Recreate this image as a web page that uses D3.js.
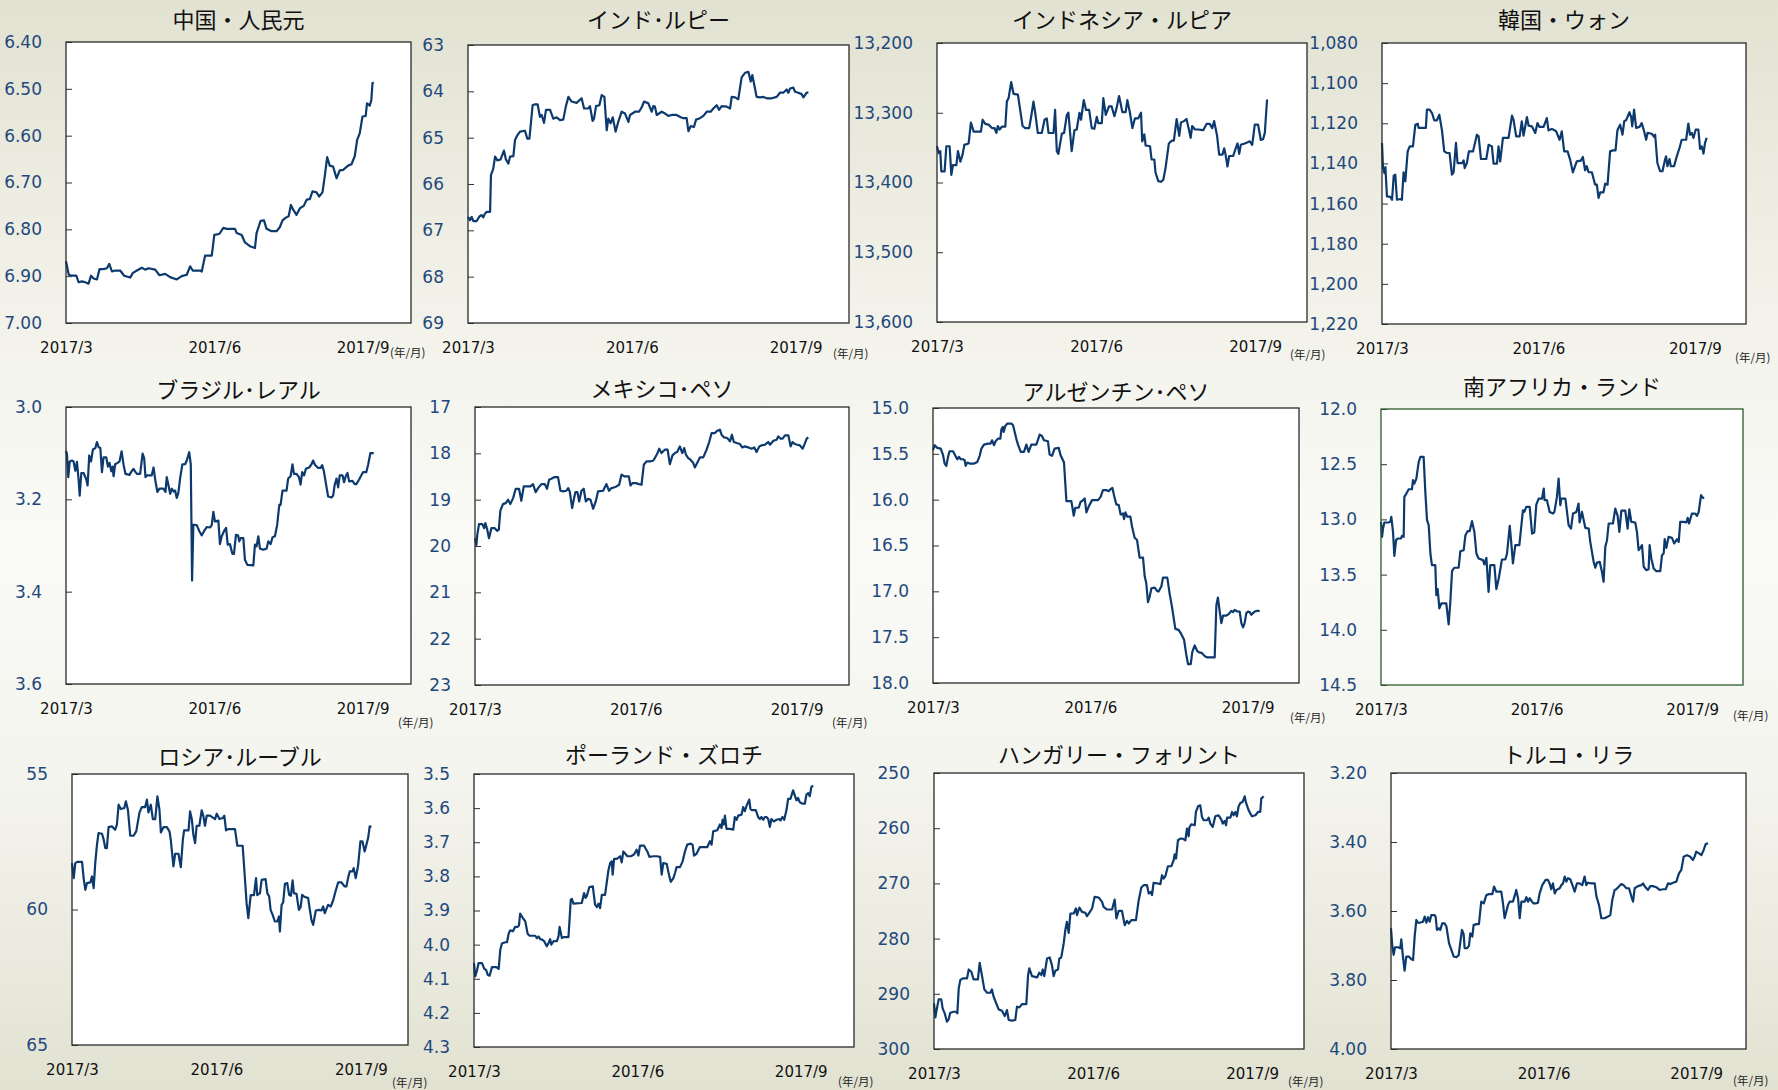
<!DOCTYPE html>
<html><head><meta charset="utf-8">
<script src="https://cdn.jsdelivr.net/npm/d3@7"></script>
<style>
html,body{margin:0;padding:0;}
body{width:1778px;height:1090px;overflow:hidden;}
</style></head><body>
<svg id="chart" width="1778" height="1090"></svg>
<script>
// ---------------- DATA ----------------
const titles = ["中国・人民元","インド･ルピー","インドネシア・ルピア","韓国・ウォン",
  "ブラジル･レアル","メキシコ･ペソ","アルゼンチン･ペソ","南アフリカ・ランド",
  "ロシア･ルーブル","ポーランド・ズロチ","ハンガリー・フォリント","トルコ・リラ"];
const xTickLabels = ["2017/3","2017/6","2017/9"];
const xTickDays = [0, 92, 184];          // days since 2017-03-01
const xDomainDays = [0, 214];            // 2017-03-01 .. 2017-10-01
const unitLabel = "(年/月)";

const cnyTicks = [6.40,6.50,6.60,6.70,6.80,6.90,7.00];
const inrTicks = [63,64,65,66,67,68,69];
const idrTicks = [13200,13300,13400,13500,13600];
const krwTicks = [1080,1100,1120,1140,1160,1180,1200,1220];
const brlTicks = [3.0,3.2,3.4,3.6];
const mxnTicks = [17,18,19,20,21,22,23];
const arsTicks = [15.0,15.5,16.0,16.5,17.0,17.5,18.0];
const zarTicks = [12.0,12.5,13.0,13.5,14.0,14.5];
const rubTicks = [55,60,65];
const plnTicks = [3.5,3.6,3.7,3.8,3.9,4.0,4.1,4.2,4.3];
const hufTicks = [250,260,270,280,290,300];
const tryTicks = [3.20,3.40,3.60,3.80,4.00];
const tickFormats = [".2f","d",",",",",".1f","d",".1f",".1f","d",".1f","d",".2f"];

// [day since 2017-03-01, rate]
const cnyData = [[0,6.868],[1.7,6.897],[3.7,6.899],[6.4,6.899],[7.8,6.913],[9.9,6.911],[12,6.913],[14,6.916],[15.5,6.899],[17.1,6.905],[19.2,6.907],[20.8,6.885],[23.3,6.885],[25.4,6.883],[26.8,6.874],[28.5,6.890],[30.5,6.888],[33.6,6.888],[36.1,6.899],[39.8,6.903],[41.5,6.893],[44,6.888],[47,6.882],[49.1,6.886],[51.2,6.883],[55.3,6.886],[58,6.898],[61.5,6.895],[64.6,6.902],[68.7,6.907],[71.8,6.900],[74.9,6.897],[77,6.879],[78.6,6.888],[83.2,6.888],[84.2,6.890],[86.3,6.856],[90.4,6.856],[92,6.812],[95.1,6.810],[97.6,6.797],[99.7,6.799],[104.8,6.799],[105.9,6.808],[109,6.812],[111,6.828],[114.1,6.836],[117.2,6.840],[118.2,6.808],[120.7,6.782],[122.8,6.781],[124.4,6.799],[127.5,6.804],[130.6,6.804],[132.7,6.795],[134.3,6.781],[136.4,6.775],[138.1,6.772],[139.5,6.748],[140.9,6.758],[143,6.769],[145.1,6.755],[147.5,6.750],[149.2,6.737],[151.3,6.735],[152.9,6.719],[155.4,6.721],[157,6.730],[159.1,6.721],[160.5,6.687],[162,6.646],[163.6,6.664],[165.7,6.666],[167.8,6.691],[169.8,6.674],[171.9,6.673],[175,6.664],[177.1,6.661],[179.1,6.644],[180.6,6.609],[182.2,6.595],[183.9,6.559],[185.9,6.558],[186.7,6.531],[188.4,6.536],[189.4,6.524],[190.1,6.488],[190.9,6.486]];

const inrData = [[0,66.71],[1.1,66.78],[2.1,66.71],[3,66.80],[4.9,66.80],[6.4,66.70],[7.7,66.67],[8.6,66.72],[9.5,66.64],[10.5,66.60],[12.4,66.60],[12.9,65.81],[14.2,65.67],[15.2,65.41],[16.5,65.49],[18.3,65.47],[20.2,65.28],[21.3,65.47],[22.7,65.56],[23.6,65.41],[25.5,65.40],[26.4,65.05],[27.7,64.95],[29.2,64.87],[32,64.85],[33.3,65.02],[34.5,65.02],[36.3,64.30],[37.6,64.28],[39.1,64.28],[40.4,64.55],[41.4,64.51],[42.7,64.68],[43.8,64.40],[46.1,64.40],[47.9,64.59],[49.8,64.56],[51.7,64.62],[53.5,64.61],[55,64.32],[56.4,64.12],[58.2,64.22],[61,64.25],[63.8,64.15],[65.2,64.37],[67.6,64.37],[68.5,64.32],[70,64.64],[70.8,64.59],[71.9,64.32],[73.8,64.30],[75.1,64.08],[76.6,64.12],[77.9,64.84],[78.8,64.59],[80.1,64.69],[81.3,64.56],[82.9,64.87],[84.4,64.66],[86.3,64.44],[88.2,64.48],[90.1,64.66],[91,64.51],[93.8,64.44],[96,64.44],[97.5,64.35],[98.9,64.22],[101.3,64.26],[103.2,64.44],[104.1,64.32],[105,64.33],[106,64.51],[108.8,64.44],[110.7,64.48],[112.5,64.53],[114.4,64.51],[117.2,64.51],[119.5,64.56],[121,64.58],[122.8,64.58],[123.8,64.86],[125.1,64.75],[126.9,64.77],[128.1,64.61],[130.3,64.58],[132.2,64.53],[134.1,64.44],[136.3,64.44],[137.8,64.37],[139.7,64.30],[141,64.40],[142.5,64.32],[145.3,64.33],[147.2,64.37],[148.1,64.12],[150,64.13],[151.8,64.17],[153.7,63.70],[155.6,63.60],[157.5,63.58],[158.8,63.79],[159.7,63.65],[161.2,63.94],[162.1,64.12],[164,64.13],[165.9,64.12],[167.8,64.15],[170.6,64.15],[173.4,64.12],[175.2,64.03],[177.1,64.03],[179,63.96],[179.9,64.03],[180.9,63.94],[182.7,63.92],[183.7,64.01],[185.5,64.03],[187.4,64.06],[188.4,64.13],[189.3,64.08],[190.2,64.03],[191.2,64.03]];

const idrData = [[0,13348],[1,13358],[1.9,13355],[2.5,13384],[4.4,13384],[5.4,13348],[7.3,13348],[8.3,13389],[9.2,13375],[11.2,13375],[12.1,13355],[13.5,13370],[14.8,13360],[15.8,13346],[18.3,13344],[19.6,13314],[21.2,13327],[22.5,13327],[25.4,13327],[26.4,13310],[27.9,13316],[29.8,13317],[31.8,13322],[33.3,13322],[34.3,13329],[35.2,13319],[36.2,13324],[37.5,13320],[39.5,13320],[40.4,13284],[41.4,13279],[42.9,13256],[44.3,13273],[46.8,13274],[48.1,13296],[49.5,13319],[51,13322],[53.3,13322],[54.5,13305],[55.8,13284],[56.8,13300],[58.3,13329],[60.6,13329],[62.2,13310],[63.5,13308],[64.5,13329],[67.4,13329],[68.3,13296],[69.3,13355],[70.2,13359],[72.2,13330],[73.5,13329],[75.1,13303],[76,13300],[77,13329],[77.9,13355],[79.5,13325],[80.8,13324],[82.4,13300],[83.3,13310],[84.9,13282],[86.2,13296],[88,13296],[89.5,13322],[91,13323],[92.4,13306],[93.3,13315],[95.3,13315],[96.2,13279],[97.6,13303],[99.5,13291],[101,13291],[102.6,13305],[103.9,13293],[105.3,13276],[107.2,13299],[109.1,13299],[110.1,13282],[111.6,13300],[113,13322],[114.5,13308],[116.4,13308],[118,13300],[118.7,13341],[119.9,13331],[120.7,13347],[123.2,13348],[124.1,13367],[125.7,13367],[126.4,13386],[128,13398],[129.5,13399],[130.9,13396],[132.2,13379],[134.1,13344],[135.7,13340],[137,13340],[138.6,13309],[140.1,13333],[141.1,13314],[142.8,13312],[144.3,13309],[145.7,13324],[146.7,13336],[147.6,13319],[149.2,13324],[151.1,13324],[154,13325],[155.9,13316],[157.8,13316],[159.2,13322],[160.3,13312],[162,13333],[163.2,13360],[165.1,13360],[166.1,13351],[166.9,13360],[168,13377],[169,13362],[171.3,13362],[172.6,13352],[173.8,13344],[174.8,13359],[175.7,13346],[178,13344],[180,13342],[180.9,13341],[182.3,13346],[183.8,13317],[185.7,13317],[187.3,13339],[188.6,13338],[189.6,13329],[190.9,13281]];

const krwData = [[0,1129.8],[0.6,1142.3],[1.4,1144.8],[2,1141.8],[2.9,1156.4],[4.9,1156.7],[5.9,1158.1],[6.9,1146.1],[7.8,1145.6],[8.8,1158.1],[10.8,1157.7],[11.7,1158.1],[12.7,1144.4],[13.7,1148.9],[15.1,1134.0],[16.3,1131.5],[18.2,1131.5],[19.6,1120.7],[21,1120.2],[21.5,1122.3],[24.5,1122.3],[25.8,1122.3],[26.4,1113.2],[28,1113.2],[29.4,1114.9],[30.7,1118.5],[32.3,1118.5],[33.7,1115.7],[35.2,1123.2],[36.6,1134.0],[38.2,1134.8],[39.7,1134.8],[41.1,1145.6],[42.1,1144.4],[43.5,1129.8],[44.4,1139.8],[47,1139.8],[48,1138.5],[48.6,1142.3],[49.9,1139.8],[51.1,1134.0],[53.5,1134.0],[55.8,1125.7],[56.8,1126.5],[58.2,1137.8],[61.3,1137.8],[62.7,1130.7],[64.6,1131.5],[65.6,1140.1],[67.6,1140.1],[68.5,1131.5],[69.5,1139.0],[71.1,1127.3],[74.4,1127.3],[76.4,1116.2],[77.3,1118.2],[78.9,1126.5],[80.9,1126.5],[82.2,1119.0],[83.2,1126.2],[85.2,1116.9],[86.2,1121.2],[88.1,1121.5],[90.1,1124.8],[91.4,1119.9],[92.6,1121.8],[95,1121.8],[96.9,1117.4],[97.9,1123.5],[99.9,1122.8],[102.4,1124.0],[104.4,1128.2],[105.7,1124.0],[107.1,1134.0],[109.1,1134.0],[110.6,1138.1],[112.2,1144.4],[114.5,1139.0],[116.9,1138.6],[118.1,1136.8],[119.4,1143.4],[120.4,1141.4],[121.4,1144.3],[123.4,1144.4],[125.3,1150.6],[126.3,1150.6],[127.3,1157.2],[128.3,1154.4],[130.2,1154.4],[131.2,1150.1],[132.6,1150.6],[134.1,1134.0],[135.7,1133.5],[137.3,1133.5],[138.4,1123.5],[140,1120.7],[141.4,1125.7],[142.4,1119.0],[143.5,1118.5],[145.5,1114.5],[146.5,1116.9],[147.1,1121.5],[148.2,1113.2],[149.4,1122.3],[151.4,1121.8],[152.7,1119.9],[154.1,1124.0],[155.3,1128.2],[156.1,1124.8],[158.6,1125.2],[160,1126.8],[160.6,1125.7],[161.9,1139.8],[163.5,1143.9],[164.9,1143.9],[166.4,1138.1],[167,1136.5],[167.8,1141.4],[169,1137.8],[169.8,1141.4],[171.7,1141.4],[173.3,1136.5],[174.9,1132.3],[176.2,1128.2],[178.8,1128.2],[180.1,1120.2],[181.1,1125.7],[182.1,1124.8],[183.1,1127.3],[184.4,1123.2],[186,1123.2],[187,1132.8],[188,1131.5],[189,1135.1],[189.9,1129.8],[190.9,1127.3]];

const brlData = [[0,3.095],[0.6,3.102],[1.4,3.152],[2.3,3.118],[3.7,3.116],[4.7,3.118],[5.8,3.138],[6.8,3.119],[7.8,3.157],[8.5,3.192],[9.5,3.143],[10.9,3.143],[12.6,3.157],[13.4,3.170],[14.4,3.105],[15.5,3.118],[16.7,3.092],[18.2,3.089],[19.2,3.076],[20.2,3.087],[21.3,3.089],[22.3,3.141],[23.3,3.109],[25,3.109],[26,3.129],[27,3.121],[28.1,3.139],[28.9,3.129],[29.5,3.150],[30.5,3.124],[32,3.121],[33.2,3.118],[34.5,3.096],[35.7,3.125],[36.9,3.145],[39.4,3.147],[40.9,3.138],[41.9,3.134],[42.7,3.139],[44,3.145],[46,3.145],[47.5,3.101],[48.5,3.111],[49.3,3.152],[50.1,3.148],[53.2,3.148],[54.3,3.131],[55.5,3.161],[56.7,3.184],[58,3.177],[60.5,3.177],[61.7,3.184],[62.5,3.152],[63.6,3.170],[64.6,3.188],[65.6,3.177],[66.7,3.183],[67.7,3.181],[68.7,3.197],[69.7,3.186],[70.8,3.154],[72.2,3.124],[73.9,3.124],[74.9,3.116],[76.4,3.098],[77.4,3.124],[78.2,3.376],[79,3.255],[81.1,3.256],[82.7,3.269],[84.2,3.278],[85.6,3.269],[87.3,3.260],[89.4,3.261],[90.4,3.256],[91.4,3.227],[92.4,3.248],[94.5,3.246],[95.5,3.297],[96.6,3.280],[98,3.269],[99.3,3.262],[100.3,3.298],[101.7,3.297],[103.2,3.318],[104.2,3.318],[105.4,3.277],[106.7,3.278],[107.5,3.291],[108.3,3.284],[110,3.284],[111,3.331],[112.5,3.342],[116.2,3.343],[117.2,3.298],[118.2,3.302],[119.3,3.280],[120.3,3.307],[122.4,3.309],[124.4,3.307],[125.5,3.291],[126.9,3.297],[128.1,3.282],[129.6,3.280],[131,3.255],[132.3,3.212],[133.1,3.212],[134.3,3.181],[136.8,3.181],[137.8,3.155],[139.3,3.150],[140.5,3.124],[141.4,3.145],[143,3.145],[144.5,3.152],[145.5,3.168],[146.5,3.141],[147.7,3.148],[148.8,3.134],[150.8,3.131],[152.3,3.124],[153.3,3.116],[154.4,3.125],[156.4,3.132],[157.9,3.132],[158.9,3.126],[159.9,3.138],[162.6,3.194],[164.7,3.196],[165.7,3.192],[166.7,3.168],[167.8,3.155],[168.8,3.174],[169.8,3.148],[171.5,3.148],[172.5,3.163],[173.5,3.150],[174.6,3.143],[175.6,3.161],[177.7,3.160],[179.1,3.167],[180.1,3.167],[181.8,3.157],[184.3,3.141],[186.3,3.141],[187.4,3.125],[188.8,3.100],[190.9,3.100]];

const mxnData = [[0,19.831],[0.8,19.975],[1.3,19.759],[2.3,19.528],[4.2,19.528],[5.2,19.615],[5.9,19.507],[6.9,19.629],[8,19.831],[9.4,19.615],[11.3,19.615],[12.6,19.672],[13.6,19.651],[14.5,19.240],[16,19.096],[17.6,19.074],[18.9,19.002],[20.2,19.096],[21.8,18.966],[23.3,18.765],[25.2,18.765],[26.5,19.024],[27.9,18.714],[29.4,18.714],[31.7,18.714],[33.2,18.664],[34.7,18.837],[36.1,18.750],[38,18.664],[39.9,18.664],[41.2,18.765],[42.4,18.570],[43.7,18.549],[45.6,18.513],[47.5,18.513],[48.9,18.808],[50.4,18.822],[52.3,18.808],[53.3,18.750],[54.2,18.822],[55.6,19.183],[56.7,18.966],[57.5,18.837],[58.6,18.837],[59.6,19.038],[60.9,18.808],[62.2,18.765],[63.4,19.038],[64.7,18.981],[66.1,19.002],[67.6,19.197],[69.1,19.038],[70.4,18.822],[73.3,18.808],[75.2,18.664],[76.7,18.808],[78.1,18.750],[79.4,18.736],[80.9,18.714],[82.5,18.678],[83.8,18.462],[85.7,18.498],[88,18.498],[89,18.693],[90.1,18.642],[92,18.642],[93.9,18.664],[95.3,18.678],[96.6,18.246],[98.1,18.174],[100,18.174],[101.9,18.160],[102.9,18.102],[104.2,18.016],[105.4,17.900],[106.7,17.994],[108.6,17.922],[110.2,17.922],[111.5,18.232],[113,18.044],[114.4,17.994],[115.7,17.972],[117.2,17.850],[118.6,17.994],[119.7,17.886],[120.7,18.030],[122,18.102],[123.3,18.138],[124.9,18.210],[125.8,18.304],[127.1,18.210],[128.7,18.088],[130.6,18.088],[132.5,17.922],[134,17.756],[135.4,17.562],[137.3,17.562],[138.6,17.511],[140.1,17.490],[141.1,17.598],[142.4,17.655],[144.3,17.670],[145.9,17.742],[147,17.598],[148.1,17.756],[149.7,17.778],[151.6,17.800],[152.9,17.872],[154.4,17.850],[156.4,17.872],[158.3,17.900],[159.8,17.872],[161.1,17.972],[162.7,17.850],[164,17.828],[165.9,17.814],[167.8,17.756],[168.8,17.814],[170.7,17.728],[172.6,17.706],[173.5,17.634],[174.9,17.684],[176,17.684],[177.4,17.612],[179.3,17.612],[180.6,17.850],[181.7,17.756],[183.1,17.800],[184.4,17.814],[185.9,17.828],[187.5,17.900],[188.8,17.778],[189.8,17.684],[190.7,17.655]];

const arsData = [[0,15.461],[1,15.406],[2.5,15.435],[4.5,15.443],[5.8,15.508],[6.8,15.606],[7.8,15.631],[8.8,15.533],[9.7,15.472],[11.7,15.472],[13.1,15.522],[14.2,15.559],[15.2,15.533],[16.2,15.559],[17.5,15.559],[18.5,15.570],[19.1,15.631],[20.1,15.595],[21.4,15.606],[24,15.606],[25.9,15.588],[27.3,15.522],[28.3,15.443],[29.8,15.399],[32.2,15.388],[33.7,15.388],[34.5,15.352],[35.7,15.406],[36.6,15.363],[38,15.334],[39.4,15.334],[40,15.232],[40.9,15.207],[41.3,15.261],[42.3,15.196],[43.5,15.170],[45.8,15.170],[46.8,15.189],[48.7,15.334],[49.7,15.399],[51.3,15.479],[53.2,15.479],[54.6,15.399],[55.9,15.479],[57.5,15.399],[60.4,15.399],[62.4,15.290],[63.7,15.305],[64.9,15.352],[67.2,15.363],[68.2,15.508],[69.6,15.522],[71.1,15.443],[73.5,15.435],[74.6,15.515],[76.6,15.595],[78,16.016],[80.9,16.016],[82.3,16.175],[83.2,16.088],[85.2,16.088],[86.3,16.023],[87.1,16.016],[88.7,15.987],[89.7,16.139],[91,16.077],[93,16.005],[96.5,16.005],[98,15.969],[99.4,15.896],[101.3,15.896],[102.7,15.907],[103.9,15.885],[104.9,15.871],[105.8,15.950],[107.2,16.052],[108.6,16.059],[109.7,16.161],[111.1,16.150],[111.7,16.212],[112.5,16.139],[113.6,16.186],[115.4,16.186],[116.4,16.295],[117.9,16.415],[119.3,16.440],[120.8,16.632],[122.8,16.632],[123.8,16.839],[124.7,16.912],[125.7,17.119],[126.7,17.057],[127.7,16.966],[129.6,16.959],[131,16.995],[131.9,17.002],[133.5,16.948],[134.5,16.850],[137,16.850],[138.4,17.031],[139.7,17.166],[141.7,17.409],[143.6,17.420],[145.2,17.467],[146.8,17.528],[148.1,17.692],[149.1,17.793],[150.7,17.793],[151.6,17.663],[153,17.590],[154.4,17.648],[155.3,17.663],[157.3,17.674],[158.4,17.699],[159.2,17.710],[160.4,17.721],[164.7,17.721],[165.7,17.148],[166.6,17.068],[167.6,17.213],[168.6,17.347],[169.6,17.264],[171.5,17.264],[172.9,17.249],[174.4,17.213],[175.4,17.227],[176.4,17.202],[177.9,17.220],[179.3,17.220],[180.3,17.347],[181.3,17.394],[182.2,17.347],[183.2,17.238],[184.2,17.220],[185.2,17.227],[186.1,17.256],[187.1,17.238],[188.1,17.220],[189.6,17.213],[191,17.213]];

const zarData = [[0,13.022],[0.6,13.158],[1.2,13.083],[2,13.028],[4.5,13.028],[5.5,13.022],[6.1,12.977],[7.1,13.113],[7.9,13.330],[8.9,13.188],[9.9,13.173],[11.8,13.173],[12.4,13.149],[13.4,13.158],[13.8,12.796],[15,12.766],[16.4,12.727],[18.3,12.727],[18.9,12.645],[19.7,12.676],[20.9,12.630],[22.3,12.479],[23.3,12.434],[25.2,12.434],[26.2,12.751],[27.2,13.007],[28.2,13.052],[29.2,13.309],[30.1,13.414],[32.1,13.414],[32.7,13.686],[33.5,13.631],[34.5,13.806],[35.7,13.761],[38.6,13.761],[40,13.951],[41,13.746],[42,13.469],[43.3,13.438],[45.9,13.438],[46.9,13.288],[48.9,13.279],[49.9,13.143],[51.2,13.107],[52.4,13.107],[53.8,13.016],[55.2,13.113],[56.4,13.309],[57.7,13.354],[60.3,13.369],[61.1,13.408],[62.3,13.348],[63.6,13.656],[64.6,13.414],[67,13.414],[68.2,13.631],[69.6,13.535],[71.5,13.363],[73.5,13.363],[74.5,13.309],[76.1,13.059],[76.8,13.173],[78,13.399],[79.4,13.233],[81.8,13.233],[83.9,12.917],[84.7,12.932],[85.9,12.887],[87.9,12.887],[89.3,13.128],[90.6,13.119],[91.8,12.866],[93.2,12.811],[95.2,12.811],[96.2,12.721],[96.7,12.826],[98.1,12.826],[99.7,12.932],[101.7,12.947],[102.5,12.932],[104,12.796],[105,12.630],[106,12.872],[106.6,12.811],[109,12.811],[110.9,13.052],[112.3,13.083],[113.5,12.947],[115.5,12.932],[116.8,12.856],[117.4,13.028],[118.8,12.932],[120.8,13.077],[122.8,13.083],[123.7,13.203],[125.7,13.384],[126.7,13.438],[127.7,13.390],[129.3,13.384],[130.6,13.475],[131.6,13.565],[132.6,13.248],[133.6,13.188],[134.6,13.037],[137.1,13.037],[138.5,12.902],[139.9,12.968],[140.9,13.113],[142.1,12.920],[144.4,12.920],[145.8,13.083],[146.8,12.908],[148,13.022],[150.3,13.028],[151.3,13.113],[152.3,13.279],[153.3,13.258],[154.3,13.233],[155.3,13.429],[156.8,13.460],[158.2,13.451],[158.8,13.233],[159.8,13.354],[161.2,13.445],[162.8,13.469],[165.1,13.469],[166.1,13.324],[167.1,13.309],[167.7,13.179],[168.7,13.258],[170,13.158],[172,13.167],[173.4,13.218],[175,13.179],[176,13.203],[176.9,13.022],[178.9,13.022],[180.5,13.028],[181.3,12.986],[182.1,13.037],[183.8,12.947],[185.8,12.947],[186.8,12.968],[187.8,12.932],[189.2,12.781],[190.3,12.805],[191.1,12.805]];

const rubData = [[0,58.288],[1.1,58.842],[2.1,58.288],[3.6,58.239],[6.4,58.239],[7.4,58.842],[8.5,59.273],[9.5,59.027],[11.7,59.002],[12.7,58.781],[13.8,59.212],[14.8,58.288],[15.9,57.611],[16.9,57.180],[19.1,57.204],[20.1,57.401],[21.2,57.734],[22.2,57.734],[23.3,56.958],[25.4,56.933],[27.5,57.057],[28.6,56.872],[29.7,56.133],[31.1,56.293],[33.3,56.256],[34.3,56.010],[35.6,56.318],[37.1,57.278],[39.2,57.278],[40.9,57.118],[43,56.416],[44.5,56.219],[46.6,56.219],[47.7,55.948],[48.7,56.416],[50.2,56.133],[51.5,56.663],[53,56.663],[54.4,55.825],[55.7,56.318],[56.6,57.155],[58.3,56.958],[60.4,56.958],[62.1,57.118],[62.9,57.426],[64.6,58.411],[65.7,57.943],[67.8,57.943],[69.3,58.436],[70.6,57.426],[71.4,57.081],[74.2,57.081],[75.2,56.379],[76.3,56.663],[77.3,57.241],[78.4,57.549],[79.4,56.909],[81.1,56.909],[82.6,56.342],[83.7,56.564],[84.7,56.909],[85.8,56.539],[87.9,56.539],[91.1,56.663],[92.2,56.465],[93.9,56.663],[96,56.626],[97,56.539],[98.1,57.081],[99.6,57.032],[103.8,57.032],[105.3,57.648],[108.7,57.648],[110.2,58.904],[111.2,59.766],[112.3,60.320],[113.8,59.470],[115.9,59.470],[117.2,58.842],[118,59.470],[119.7,59.396],[120.8,58.904],[123.3,58.879],[124.4,59.396],[125.6,59.520],[126.5,60.012],[127.8,60.197],[129.2,60.443],[130.7,60.443],[131.8,60.258],[132.4,60.813],[133.5,59.827],[134.5,59.741],[135.6,59.052],[137.1,59.027],[138.3,59.458],[139.4,59.495],[140.5,58.928],[141.3,59.396],[143,59.421],[144.5,60.012],[145.6,59.914],[146.6,59.458],[147.7,59.520],[150.4,59.581],[151.5,60.012],[152.5,60.382],[153.6,60.566],[155.3,60.037],[157.4,60.012],[158.9,60.037],[160,59.889],[161,60.135],[163.1,59.827],[164.8,59.889],[166.3,59.667],[168,59.298],[169.5,59.002],[171.6,59.002],[173.7,59.150],[174.8,59.150],[175.8,58.842],[176.9,58.596],[178.6,58.596],[179.4,58.473],[180.7,58.842],[182.2,58.387],[183.7,57.488],[185,57.488],[186.4,57.857],[187.5,57.611],[188.6,57.364],[189.6,56.933],[190.7,56.958]];

const plnData = [[0,4.054],[0.7,4.093],[1.7,4.075],[2.6,4.054],[4.5,4.054],[5.8,4.071],[6.9,4.075],[7.7,4.088],[8.8,4.091],[10.1,4.066],[12.6,4.066],[13.9,4.071],[14.8,4.015],[15.7,3.997],[17.6,3.993],[18.6,3.993],[19.5,3.968],[20.4,3.958],[21.9,3.961],[23.2,3.948],[24.6,3.948],[25.3,3.944],[26,3.909],[27.5,3.922],[28.9,3.932],[30.2,3.968],[31.3,3.974],[34.5,3.974],[35.4,3.981],[36.4,3.976],[37.3,3.984],[38.2,3.985],[39.5,3.990],[41,4.005],[42,3.995],[42.9,3.984],[43.5,4.000],[44.8,3.990],[46.7,3.990],[47.6,3.976],[48.2,3.948],[49.5,3.981],[50.4,3.978],[53.2,3.978],[54.5,3.868],[55.1,3.866],[56,3.880],[60.7,3.878],[62,3.849],[62.8,3.863],[63.5,3.858],[65,3.831],[66.9,3.829],[68.2,3.883],[69.2,3.890],[70.1,3.880],[71,3.893],[72,3.854],[73.8,3.854],[75.7,3.782],[76.7,3.761],[77.6,3.756],[78.1,3.795],[78.9,3.749],[80.4,3.749],[82.3,3.741],[83.2,3.759],[84.1,3.727],[85.1,3.733],[86.4,3.741],[88.3,3.741],[90.1,3.736],[91.6,3.722],[92.6,3.739],[93.5,3.710],[95.8,3.710],[97.6,3.727],[98.8,3.743],[101,3.741],[102.9,3.741],[104.8,3.743],[105.7,3.795],[106.6,3.761],[108.5,3.763],[110,3.800],[110.8,3.816],[112.3,3.805],[113.2,3.790],[114.1,3.773],[116,3.773],[117.5,3.756],[118.8,3.727],[120.1,3.707],[122,3.704],[123.1,3.707],[123.9,3.739],[125.4,3.733],[127.2,3.714],[131.4,3.714],[132.9,3.697],[133.8,3.707],[134.7,3.668],[137,3.665],[138.5,3.648],[139.4,3.658],[140,3.634],[140.7,3.648],[141.3,3.622],[142.2,3.661],[144.1,3.661],[146,3.663],[146.9,3.626],[147.9,3.634],[148.8,3.622],[150.7,3.619],[151.6,3.597],[152.5,3.609],[153.5,3.593],[155,3.575],[155.7,3.603],[156.7,3.606],[158.7,3.606],[160,3.626],[161,3.632],[161.9,3.626],[162.9,3.634],[163.8,3.626],[164.7,3.626],[165.7,3.632],[166.6,3.655],[167.5,3.632],[168.9,3.639],[170.4,3.634],[171.9,3.632],[172.6,3.636],[173.7,3.626],[174.7,3.634],[176,3.605],[176.9,3.573],[178.2,3.573],[179.7,3.548],[181.6,3.577],[182.5,3.570],[183.5,3.583],[185,3.587],[186.3,3.587],[187.2,3.561],[188.2,3.556],[189.1,3.565],[190,3.538],[191,3.534]];

const hufData = [[0,291.74],[0.8,294.27],[1.7,292.64],[2.7,291.01],[4.2,291.01],[5,292.64],[6.2,293.55],[7.5,295.05],[8.5,294.63],[9.4,293.43],[11.4,293.25],[12.7,293.25],[13.5,293.55],[14.3,289.02],[15.2,287.52],[16.6,287.21],[19.1,287.21],[20.1,285.59],[21.6,286.01],[22.9,287.39],[25.4,287.39],[26.4,284.38],[27.8,286.79],[29.1,289.20],[30.7,289.81],[32.6,289.81],[33.5,289.20],[34.5,290.53],[36.4,292.04],[37.4,292.82],[39.3,293.06],[40.9,294.03],[42.2,292.94],[43.2,294.75],[45.1,294.87],[47,294.75],[48,292.34],[49.4,292.46],[50.9,291.86],[53.4,291.86],[54.4,286.61],[55.1,285.40],[56.7,286.79],[59.6,287.03],[60.9,286.19],[62.1,286.61],[62.9,285.59],[63.8,286.79],[65.4,283.59],[66.9,283.41],[68.2,284.80],[69.2,286.79],[70.2,285.83],[71.7,285.59],[72.5,283.59],[73.6,283.41],[75,280.88],[76,278.35],[76.9,276.96],[77.9,278.95],[78.9,275.45],[80.8,275.45],[82.1,274.55],[82.7,275.75],[84.1,274.37],[85.6,275.15],[87.5,275.33],[88.5,275.94],[89.8,275.33],[91.4,274.55],[92.9,272.44],[95.2,272.56],[97.2,273.34],[98.1,274.25],[100.1,274.73],[103,274.73],[104.5,272.92],[105.5,276.36],[106.8,274.97],[108.7,274.97],[110.3,277.56],[111.6,276.78],[112.6,277.26],[114.1,276.66],[116.8,276.66],[118.4,273.04],[119.9,270.75],[121.3,270.33],[123.2,270.33],[124.2,271.83],[125.5,271.53],[126.1,272.14],[127,269.90],[129.6,270.02],[130.9,270.14],[131.9,268.52],[132.8,269.12],[133.8,268.70],[135.3,266.89],[137.3,266.89],[138.6,265.80],[139.2,264.72],[140,265.50],[141.1,262.18],[142.5,261.88],[143.8,261.88],[145.4,262.18],[146.3,260.07],[147.3,261.46],[147.7,259.89],[148.8,259.29],[150.8,259.47],[151.5,257.06],[152.7,256.03],[154,255.85],[155,257.96],[156,258.56],[157.9,258.56],[158.9,258.08],[159.8,259.17],[161.2,259.77],[162.7,257.84],[164.6,257.66],[166.2,258.44],[167,259.17],[168.1,258.69],[168.9,259.47],[169.5,258.08],[171.4,258.08],[172.4,257.06],[173.3,257.66],[174.3,257.06],[175.2,257.84],[176.2,256.03],[177.2,255.43],[178.5,255.25],[179.7,254.22],[180.5,255.43],[182,256.76],[183,257.36],[183.9,257.84],[185.9,257.66],[187.4,257.06],[188.7,257.06],[189.3,254.64],[190.7,254.22]];

const tryData = [[0,3.650],[0.8,3.703],[1.6,3.727],[2.4,3.705],[4.2,3.705],[5.6,3.708],[6.2,3.682],[7.2,3.732],[8.2,3.773],[9.2,3.732],[10.8,3.732],[12.3,3.740],[13.3,3.742],[14.3,3.672],[15.3,3.626],[16.3,3.634],[17.3,3.634],[19.3,3.631],[20.3,3.616],[21.3,3.634],[22.3,3.618],[23.3,3.631],[24.3,3.612],[26.3,3.612],[26.9,3.616],[27.7,3.655],[28.9,3.650],[29.7,3.655],[30.9,3.636],[32.3,3.636],[33.4,3.645],[35,3.694],[36.4,3.713],[37.8,3.732],[39.4,3.734],[40.8,3.728],[42,3.682],[42.8,3.655],[43.8,3.667],[44.4,3.708],[45.8,3.708],[47,3.701],[47.8,3.665],[49,3.674],[49.8,3.641],[51.4,3.638],[53,3.638],[54.4,3.573],[55.9,3.578],[57.5,3.554],[59.1,3.551],[61.1,3.551],[62.1,3.529],[63.5,3.544],[66.5,3.544],[67.5,3.578],[68.5,3.621],[69.5,3.602],[70.5,3.583],[71.5,3.573],[73.5,3.573],[74.5,3.557],[75.5,3.539],[76.6,3.563],[77.6,3.621],[78.6,3.573],[80.6,3.573],[81.6,3.560],[82.6,3.573],[83.6,3.563],[85,3.573],[86,3.578],[87.2,3.578],[88.6,3.576],[89.6,3.549],[91.2,3.525],[93.2,3.510],[94.6,3.510],[95.6,3.520],[96.6,3.537],[97.6,3.520],[98.7,3.549],[99.7,3.539],[101.7,3.534],[102.7,3.525],[103.7,3.520],[104.7,3.500],[105.7,3.515],[106.7,3.505],[108.1,3.508],[109.7,3.529],[110.7,3.544],[112.1,3.520],[113.7,3.520],[115.3,3.525],[116.7,3.500],[117.7,3.525],[118.7,3.518],[120.8,3.520],[122.8,3.520],[123.8,3.557],[125.4,3.583],[126.8,3.621],[128.8,3.621],[130.8,3.616],[132.2,3.612],[133.4,3.568],[134.8,3.539],[135.8,3.537],[137.4,3.529],[138.8,3.522],[140.2,3.525],[141.9,3.534],[143.5,3.534],[144.9,3.558],[145.9,3.573],[146.9,3.534],[148.9,3.528],[150.9,3.525],[151.9,3.520],[152.9,3.528],[154.9,3.539],[156.3,3.528],[157.9,3.528],[159.9,3.531],[161.9,3.539],[164,3.537],[165.6,3.537],[167,3.520],[168.4,3.522],[170,3.518],[172,3.515],[173.6,3.491],[175,3.481],[176.4,3.443],[178.4,3.438],[180.4,3.443],[182,3.452],[183,3.443],[184,3.428],[185.7,3.433],[187.1,3.438],[188.5,3.423],[189.7,3.406],[191.1,3.404]];

const seriesData = [cnyData,inrData,idrData,krwData,brlData,mxnData,arsData,zarData,rubData,plnData,hufData,tryData];
const seriesTicks = [cnyTicks,inrTicks,idrTicks,krwTicks,brlTicks,mxnTicks,arsTicks,zarTicks,rubTicks,plnTicks,hufTicks,tryTicks];

// ---------------- LAYOUT ----------------
const layout = [
  {L:66,  T:42,  R:411,  B:323,  ty:18,  ux:390,  uy:352},
  {L:468, T:45,  R:849,  B:323,  ty:18,  ux:833,  uy:353},
  {L:937, T:43,  R:1307, B:322,  ty:18,  ux:1290, uy:354},
  {L:1382,T:43,  R:1746, B:324,  ty:18,  ux:1735, uy:357},
  {L:66,  T:407, R:411,  B:684,  ty:388, ux:398,  uy:722},
  {L:475, T:407, R:849,  B:685,  ty:387, ux:832,  uy:722},
  {L:933, T:408, R:1299, B:683,  ty:390, ux:1290, uy:717},
  {L:1381,T:409, R:1743, B:685,  ty:385, ux:1733, uy:715, border:"#2b5a2b"},
  {L:72,  T:774, R:408,  B:1045, ty:755, ux:392,  uy:1082},
  {L:474, T:774, R:854,  B:1047, ty:753, ux:838,  uy:1081},
  {L:934, T:773, R:1304, B:1049, ty:753, ux:1288, uy:1081},
  {L:1391,T:773, R:1746, B:1049, ty:753, ux:1733, uy:1080}
];

const LINE_COLOR = "#0d3a6e";
const LABEL_BLUE = "#1f497d";
const NUM_FONT = "'DejaVu Sans', Verdana, sans-serif";
const JP_FONT = "'Noto Sans CJK JP', 'Noto Sans', sans-serif";
const base = Date.UTC(2017, 2, 1);
const toDate = d => new Date(base + d * 86400000);

const svg = d3.select("#chart");
const defs = svg.append("defs");
const grad = defs.append("linearGradient").attr("id","bg").attr("x1",0).attr("y1",0).attr("x2",0).attr("y2",1);
[["0%","#e2e2d2"],["28%","#f2f2ea"],["50%","#fafaf7"],["72%","#f4f4ee"],["100%","#e2e2d2"]]
  .forEach(([o,c]) => grad.append("stop").attr("offset",o).attr("stop-color",c));
svg.append("rect").attr("width",1778).attr("height",1090).attr("fill","url(#bg)");

seriesData.forEach((data, i) => {
  const lay = layout[i];
  const ticks = seriesTicks[i];
  const g = svg.append("g");

  const x = d3.scaleUtc().domain(xDomainDays.map(toDate)).range([lay.L, lay.R]);
  const y = d3.scaleLinear().domain([ticks[0], ticks[ticks.length-1]]).range([lay.T, lay.B]);

  g.append("rect").attr("x",lay.L).attr("y",lay.T)
    .attr("width",lay.R-lay.L).attr("height",lay.B-lay.T)
    .attr("fill","#ffffff");

  const ya = g.append("g").attr("transform",`translate(${lay.L},0)`)
    .call(d3.axisLeft(y).tickValues(ticks).tickFormat(d3.format(tickFormats[i]))
      .tickSizeInner(-6).tickSizeOuter(0).tickPadding(24));
  ya.select(".domain").remove();
  ya.selectAll(".tick line").attr("stroke","#333").attr("stroke-width",1);
  ya.selectAll(".tick text").attr("fill",LABEL_BLUE)
    .style("font-family",NUM_FONT).style("font-size","17px");

  const xa = g.append("g").attr("transform",`translate(0,${lay.B})`)
    .call(d3.axisBottom(x).tickValues(xTickDays.map(toDate))
      .tickFormat((d,k) => xTickLabels[k]).tickSize(0).tickPadding(19));
  xa.select(".domain").remove();
  xa.selectAll(".tick text").attr("fill","#111")
    .style("font-family",NUM_FONT).style("font-size","15px");

  const line = d3.line().x(d => x(toDate(d[0]))).y(d => y(d[1]));
  g.append("path").datum(data).attr("d",line)
    .attr("fill","none").attr("stroke",LINE_COLOR)
    .attr("stroke-width",2.2).attr("stroke-linejoin","round");

  g.append("rect").attr("x",lay.L).attr("y",lay.T)
    .attr("width",lay.R-lay.L).attr("height",lay.B-lay.T)
    .attr("fill","none").attr("stroke",lay.border || "#2a2a2a").attr("stroke-width",1.3);

  g.append("text").attr("x",(lay.L+lay.R)/2).attr("y",lay.ty)
    .attr("text-anchor","middle").attr("dominant-baseline","central")
    .style("font-family",JP_FONT).style("font-size","22px").style("font-weight",400)
    .attr("fill","#111").text(titles[i]);

  g.append("text").attr("x",lay.ux).attr("y",lay.uy)
    .attr("dominant-baseline","central")
    .style("font-family",JP_FONT).style("font-size","11.5px")
    .attr("fill","#222").text(unitLabel);
});
</script>
</body></html>
